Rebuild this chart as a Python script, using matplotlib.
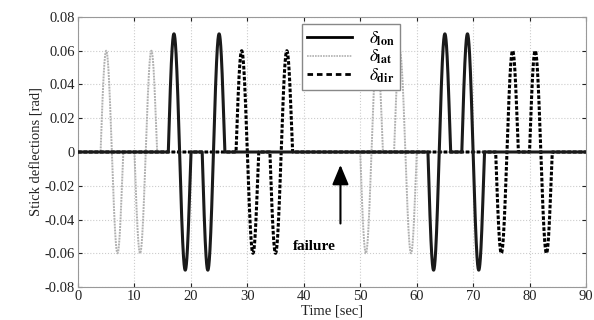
import matplotlib.pyplot as plt
from matplotlib.lines import Line2D
import numpy as np

plt.rcParams['font.family'] = 'Liberation Serif'
plt.rcParams['mathtext.fontset'] = 'stix'

# doublet inputs: start time [s], sign of first half, amplitude [rad]
period = 4.0
lat_starts = [4, 10, 50, 56]
lat_signs = [1, -1, -1, 1]
lat_amp = 0.06
lon_starts = [16, 22, 62, 68]
lon_signs = [1, -1, -1, 1]
lon_amp = 0.07
dir_starts = [28, 34, 74, 80]
dir_signs = [1, -1, -1, 1]
dir_amp = 0.06

failure_time = 46.5

t = np.linspace(0, 90, 9001)


def stick(starts, signs, amp):
    y = np.zeros_like(t)
    for s, sg in zip(starts, signs):
        m = (t >= s) & (t <= s + period)
        y[m] = sg * amp * np.sin(2 * np.pi * (t[m] - s) / period)
    return y


fig = plt.figure(figsize=(5.94, 3.2), dpi=100)
ax = fig.add_axes([0.1313, 0.103, 0.8552, 0.844])

lat_style = dict(color='#b0b0b0', lw=1.4, linestyle=(0, (1, 0.5)))
dir_style = dict(color='black', lw=2.2, linestyle=(0, (1.2, 0.6)))
lon_style = dict(color='#1a1a1a', lw=2.2)

ax.plot(t, stick(lat_starts, lat_signs, lat_amp), zorder=3, **lat_style)
ax.plot(t, stick(dir_starts, dir_signs, dir_amp), zorder=4, **dir_style)
ax.plot(t, stick(lon_starts, lon_signs, lon_amp), zorder=5, **lon_style)

ax.set_xlim(0, 90)
ax.set_ylim(-0.08, 0.08)
ax.set_xticks(np.arange(0, 91, 10))
yt = np.arange(-0.08, 0.081, 0.02)
ax.set_yticks(yt)
ax.set_yticklabels(['0' if abs(v) < 1e-9 else '%.2f' % v for v in yt])
ax.grid(True, linestyle=':', color='#cccccc', lw=0.8)
ax.tick_params(direction='in', length=3, labelsize=10.5, colors='#222222',
               top=True, right=True, pad=2)
for sp in ax.spines.values():
    sp.set_color('#999999')
ax.set_xlabel('Time [sec]', fontsize=10.5, labelpad=1, color='#222222')
ax.set_ylabel('Stick deflections [rad]', fontsize=10.5, labelpad=1, color='#222222')

handles = [Line2D([], [], color='black', lw=2.0),
           Line2D([], [], color='#b0b0b0', lw=1.2, linestyle=(0, (1, 0.6))),
           Line2D([], [], color='black', lw=2.0, linestyle=(0, (2, 1.4)))]
labels = [r'$\delta_{\mathbf{lon}}$', r'$\delta_{\mathbf{lat}}$', r'$\delta_{\mathbf{dir}}$']
leg = ax.legend(handles, labels, loc='upper left',
                bbox_to_anchor=(0.423, 1.005), fancybox=False, framealpha=1,
                edgecolor='#888888', fontsize=12.5, handlelength=2.6,
                labelspacing=0.0, borderpad=0.3, handletextpad=1.0)
leg.set_zorder(10)

ax.annotate('', xy=(failure_time, -0.006), xytext=(failure_time, -0.044),
            arrowprops=dict(arrowstyle='-|>,head_length=1.2,head_width=0.5',
                            color='black', lw=1.5))
ax.text(41.8, -0.056, 'failure', fontsize=11, fontweight='bold',
        ha='center', va='center')

fig.savefig('out.png', dpi=100)
